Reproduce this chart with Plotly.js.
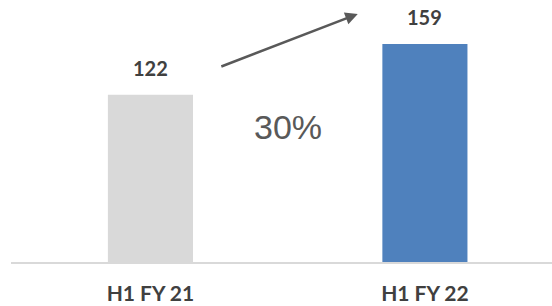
<!DOCTYPE html>
<html>
<head>
<meta charset="utf-8">
<script src="https://cdn.plot.ly/plotly-3.0.1.min.js"></script>
<style>html,body{margin:0;padding:0;background:#fff;}#chart{width:552px;height:306px;}</style>
</head>
<body>
<div id="chart"></div>
<script>
const categories = ["H1 FY 21", "H1 FY 22"];
const values = [122, 159];
const barColors = ["#d9d9d9", "#4f81bd"];
const growthLabel = "30%";

const trace = {
  type: "bar",
  x: categories,
  y: values,
  width: 0.31,
  marker: {color: barColors},
  hoverinfo: "none"
};

const valueAnnotations = categories.map((c, i) => ({
  x: c, y: values[i], xref: "x", yref: "y",
  text: "<b>" + values[i] + "</b>",
  showarrow: false, yshift: 27,
  font: {family: "Lato", size: 20, color: "#404040"}
}));

const layout = {
  width: 552, height: 306,
  margin: {l: 11, r: 0, t: 0, b: 44},
  paper_bgcolor: "#ffffff", plot_bgcolor: "#ffffff",
  showlegend: false,
  xaxis: {
    type: "category",
    range: [-0.508, 1.463],
    showline: true, linecolor: "#d9d9d9", linewidth: 1.5,
    showgrid: false, zeroline: false,
    ticks: "", ticklabelstandoff: 12,
    tickfont: {family: "Lato", size: 21, color: "#404040", weight: "bold"},
    fixedrange: true
  },
  yaxis: {
    range: [0, 191],
    visible: false, showgrid: false, zeroline: false, fixedrange: true
  },
  annotations: valueAnnotations.concat([
    {
      xref: "paper", yref: "paper", x: 0.641, y: 0.947,
      axref: "paper", ayref: "paper", ax: 0.386, ay: 0.744,
      showarrow: true, arrowhead: 2, arrowsize: 1, arrowwidth: 2.5,
      arrowcolor: "#595959", text: ""
    },
    {
      xref: "paper", yref: "paper", x: 0.512, y: 0.515,
      text: growthLabel, showarrow: false,
      xanchor: "center", yanchor: "middle",
      font: {family: "Liberation Sans, Arial", size: 34, color: "#595959"}
    }
  ])
};

Plotly.newPlot("chart", [trace], layout, {displayModeBar: false, staticPlot: true});
</script>
</body>
</html>
